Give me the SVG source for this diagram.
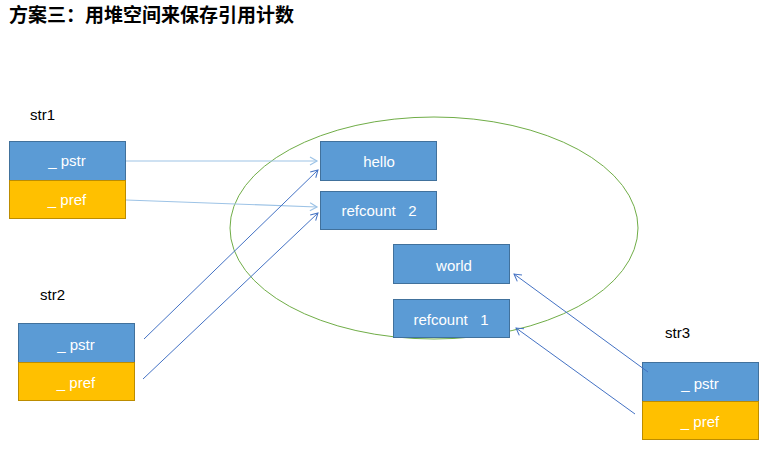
<svg xmlns="http://www.w3.org/2000/svg" width="768" height="459" viewBox="0 0 768 459">
<defs>
<style>
.box{fill:#5b9bd5;stroke:#41719c;stroke-width:1}
.ybox{fill:#ffc000;stroke:#bc8c00;stroke-width:1}
.t{font-family:"Liberation Sans","Noto Sans",sans-serif;font-size:15px;fill:#ffffff;text-anchor:middle}
.lbl{font-family:"Liberation Sans","Noto Sans",sans-serif;font-size:15px;fill:#000000}
.title{font-family:"Noto Sans CJK SC",sans-serif;font-size:19px;font-weight:bold;fill:#000}
.c1{stroke:#9dc3e6;stroke-width:1.2;fill:none;marker-end:url(#a1)}
.c2{stroke:#4472c4;stroke-width:1;fill:none;marker-end:url(#a2)}
</style>
<marker id="a1" markerWidth="10" markerHeight="10" refX="8" refY="5" orient="auto" markerUnits="userSpaceOnUse"><path d="M1,1 L8,5 L1,9" fill="none" stroke="#9dc3e6" stroke-width="1.2"/></marker>
<marker id="a2" markerWidth="10" markerHeight="10" refX="8" refY="5" orient="auto" markerUnits="userSpaceOnUse"><path d="M1,1 L8,5 L1,9" fill="none" stroke="#4472c4" stroke-width="1"/></marker>
</defs>
<rect width="768" height="459" fill="#ffffff"/>
<text class="title" x="9" y="22">方案三：用堆空间来保存引用计数</text>
<ellipse cx="434" cy="228" rx="204" ry="111" fill="none" stroke="#70ad47" stroke-width="1"/>
<g id="str1">
<text class="lbl" x="30" y="120">str1</text>
<rect class="box" x="9.5" y="141.5" width="116" height="39"/>
<text class="t" x="67" y="166">_ pstr</text>
<rect class="ybox" x="9.5" y="180.5" width="116" height="38"/>
<text class="t" x="67" y="205">_ pref</text>
</g>
<g id="str2">
<text class="lbl" x="40" y="300">str2</text>
<rect class="box" x="18.5" y="323.5" width="116" height="39"/>
<text class="t" x="76" y="350">_ pstr</text>
<rect class="ybox" x="18.5" y="362.5" width="116" height="38"/>
<text class="t" x="76" y="388">_ pref</text>
</g>
<g id="str3">
<text class="lbl" x="665" y="338">str3</text>
<rect class="box" x="642.5" y="362.5" width="116" height="39"/>
<text class="t" x="700" y="389">_ pstr</text>
<rect class="ybox" x="642.5" y="401.5" width="116" height="38"/>
<text class="t" x="700" y="427">_ pref</text>
</g>
<g id="hello">
<rect class="box" x="320.5" y="141.5" width="116" height="39"/>
<text class="t" x="379" y="167">hello</text>
</g>
<g id="refcount2">
<rect class="box" x="320.5" y="191.5" width="116" height="38"/>
<text class="t" x="379" y="216" xml:space="preserve">refcount   2</text>
</g>
<g id="world">
<rect class="box" x="393.5" y="244.5" width="116" height="39"/>
<text class="t" x="454" y="271">world</text>
</g>
<g id="refcount1">
<rect class="box" x="393.5" y="299.5" width="116" height="38"/>
<text class="t" x="451" y="325" xml:space="preserve">refcount   1</text>
</g>
<g id="connectors">
<line class="c1" x1="126" y1="161" x2="317" y2="161"/>
<line class="c1" x1="126" y1="200" x2="317" y2="207"/>
<line class="c2" x1="144" y1="339" x2="318" y2="170"/>
<line class="c2" x1="143" y1="379" x2="318" y2="213"/>
<line class="c2" x1="648" y1="372" x2="514" y2="274"/>
<line class="c2" x1="635" y1="414" x2="516" y2="328"/>
</g>
</svg>
